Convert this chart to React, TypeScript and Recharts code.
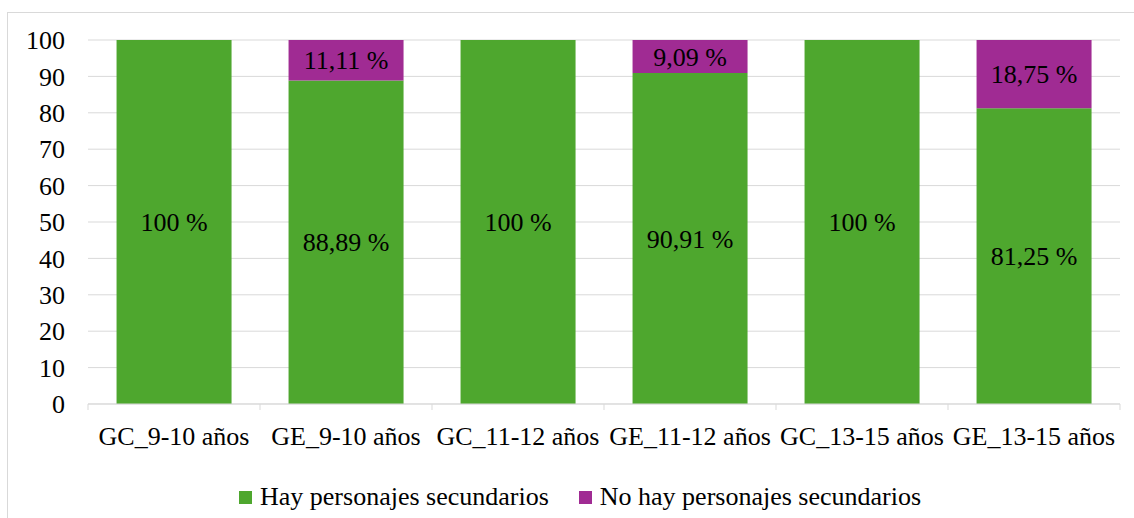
import React from 'react';
import {
  BarChart,
  Bar,
  XAxis,
  YAxis,
  CartesianGrid,
  Legend,
  LabelList,
} from 'recharts';

const groups = [
  'GC_9-10 años',
  'GE_9-10 años',
  'GC_11-12 años',
  'GE_11-12 años',
  'GC_13-15 años',
  'GE_13-15 años',
];
const hayValues = [100, 88.89, 100, 90.91, 100, 81.25];
const noHayValues = [0, 11.11, 0, 9.09, 0, 18.75];
const yTicks = [0, 10, 20, 30, 40, 50, 60, 70, 80, 90, 100];

const seriesNames = ['Hay personajes secundarios', 'No hay personajes secundarios'];
const GREEN = '#4ea72e';
const PURPLE = '#a02b93';
const GRID = '#d9d9d9';
const FONT = "'Liberation Serif', 'DejaVu Serif', serif";

const W = 1134;
const H = 518;
const MARGIN = { top: 40, right: 14, left: 0, bottom: 0 };
const Y_AXIS_W = 88;
const BAND = (W - MARGIN.left - MARGIN.right - Y_AXIS_W) / groups.length;

const data = groups.map((g, i) => ({
  group: g,
  hay: hayValues[i],
  noHay: noHayValues[i],
}));

const formatPct = (v: any) => {
  const n = Number(v);
  if (!n) return '';
  const s = Number.isInteger(n) ? String(n) : n.toFixed(2).replace('.', ',');
  return `${s} %`;
};

function CategoryTick(props: any) {
  const { x, y, payload, index } = props;
  return (
    <g>
      {index === 0 && (
        <line x1={x - BAND / 2} x2={x - BAND / 2} y1={y} y2={y + 6} stroke={GRID} />
      )}
      <line x1={x + BAND / 2} x2={x + BAND / 2} y1={y} y2={y + 6} stroke={GRID} />
      <text
        x={x}
        y={y + 41}
        textAnchor="middle"
        style={{ fontFamily: FONT, fontSize: 26 }}
        fill="#000"
      >
        {payload.value}
      </text>
    </g>
  );
}

function LegendContent() {
  const colors = [GREEN, PURPLE];
  return (
    <div
      style={{
        display: 'flex',
        alignItems: 'center',
        height: 30,
        paddingLeft: 239,
        fontFamily: FONT,
        fontSize: 26,
        color: '#000',
        whiteSpace: 'nowrap',
      }}
    >
      {seriesNames.map((name, i) => (
        <div
          key={name}
          style={{ display: 'flex', alignItems: 'center', marginRight: 30 }}
        >
          <div style={{ width: 13, height: 13, background: colors[i], marginRight: 8 }} />
          <span>{name}</span>
        </div>
      ))}
    </div>
  );
}

export default function App() {
  return (
    <div
      style={{
        position: 'absolute',
        left: 0,
        top: 0,
        width: W,
        height: H,
        background: '#fff',
        overflow: 'hidden',
        fontFamily: FONT,
      }}
    >
      <div
        style={{
          position: 'absolute',
          left: 7,
          top: 12,
          width: W,
          height: H,
          border: `1px solid ${GRID}`,
        }}
      />
      <div style={{ position: 'absolute', left: 0, top: 0 }}>
        <BarChart
          width={W}
          height={H}
          data={data}
          margin={MARGIN}
          barCategoryGap="16.6%"
          style={{ fontFamily: FONT }}
        >
          <CartesianGrid vertical={false} stroke={GRID} />
          <XAxis
            dataKey="group"
            stroke={GRID}
            tickLine={false}
            tickSize={0}
            tickMargin={0}
            height={84}
            interval={0}
            tick={<CategoryTick />}
          />
          <YAxis
            domain={[0, 100]}
            ticks={yTicks}
            width={Y_AXIS_W}
            axisLine={false}
            tickLine={false}
            tickSize={0}
            tickMargin={23}
            tick={{ fontFamily: FONT, fontSize: 26, fill: '#000' }}
            interval={0}
          />
          <Legend
            verticalAlign="bottom"
            content={<LegendContent />}
            wrapperStyle={{ top: 482, bottom: 'auto', left: 0, width: W }}
          />
          <Bar
            dataKey="hay"
            name={seriesNames[0]}
            stackId="a"
            fill={GREEN}
            isAnimationActive={false}
          >
            <LabelList
              dataKey="hay"
              position="center"
              formatter={formatPct}
              style={{ fontFamily: FONT, fontSize: 26, fill: '#000' }}
            />
          </Bar>
          <Bar
            dataKey="noHay"
            name={seriesNames[1]}
            stackId="a"
            fill={PURPLE}
            isAnimationActive={false}
          >
            <LabelList
              dataKey="noHay"
              position="center"
              formatter={formatPct}
              style={{ fontFamily: FONT, fontSize: 26, fill: '#000' }}
            />
          </Bar>
        </BarChart>
      </div>
    </div>
  );
}
